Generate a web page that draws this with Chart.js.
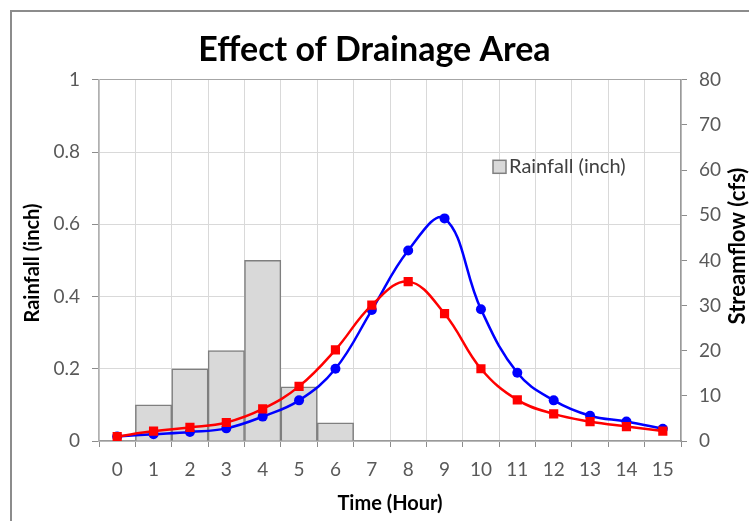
<!DOCTYPE html>
<html>
<head>
<meta charset="utf-8">
<script src="https://cdn.jsdelivr.net/npm/chart.js@4.4.1/dist/chart.umd.min.js"></script>
<style>
  html, body { margin: 0; padding: 0; background: #ffffff; }
  #wrap { width: 749px; height: 521px; position: relative; }
</style>
</head>
<body>
<div id="wrap"><canvas id="c" width="749" height="521"></canvas></div>
<script>
const hours = ['0','1','2','3','4','5','6','7','8','9','10','11','12','13','14','15'];
const rainfall = [null, 0.1, 0.2, 0.25, 0.5, 0.15, 0.05, null, null, null, null, null, null, null, null, null];
const flowBlue = [1, 1.5, 2.0, 2.8, 5.4, 9.0, 16, 29, 42.2, 49.3, 29.2, 15.1, 9.0, 5.6, 4.3, 2.7];
const flowRed  = [1, 2.2, 3.0, 4.1, 7.1, 12.1, 20.2, 30.1, 35.3, 28.2, 16, 9.1, 6.0, 4.3, 3.2, 2.2];
const rainTicks = [0, 0.2, 0.4, 0.6, 0.8, 1];
const flowTicks = [0, 10, 20, 30, 40, 50, 60, 70, 80];

const chartTitle = 'Effect of Drainage Area';
const xTitle = 'Time (Hour)';
const leftTitle = 'Rainfall (inch)';
const rightTitle = 'Streamflow (cfs)';
const legendLabel = 'Rainfall (inch)';

const FONT = 'Lato, Carlito, "Open Sans", sans-serif';

const framePlugin = {
  id: 'frame',
  beforeDraw(chart) {
    const ctx = chart.ctx;
    ctx.save();
    ctx.fillStyle = '#ffffff';
    ctx.fillRect(0, 0, chart.width, chart.height);
    ctx.strokeStyle = '#8c8c8c';
    ctx.lineWidth = 2;
    ctx.beginPath();
    ctx.moveTo(11, chart.height + 5);
    ctx.lineTo(11, 11);
    ctx.lineTo(chart.width + 5, 11);
    ctx.stroke();
    ctx.restore();
  }
};

const extrasPlugin = {
  id: 'extras',
  afterDraw(chart) {
    const ctx = chart.ctx;
    const a = chart.chartArea;
    ctx.save();
    ctx.fillStyle = '#000000';
    ctx.textAlign = 'center';
    ctx.textBaseline = 'middle';
    ctx.save();
    ctx.font = 'bold 20px ' + FONT;
    ctx.translate(33, 263);
    ctx.rotate(-Math.PI / 2);
    ctx.fillText(leftTitle, 0, 0);
    ctx.restore();
    ctx.save();
    ctx.font = 'bold 22px ' + FONT;
    ctx.translate(738, 246);
    ctx.rotate(-Math.PI / 2);
    ctx.fillText(rightTitle, 0, 0);
    ctx.restore();
    ctx.font = 'bold 20px ' + FONT;
    ctx.fillText(xTitle, (a.left + a.right) / 2, 504);
    // legend
    const lx = a.left + 394, ly = a.top + 87;
    ctx.fillStyle = '#d9d9d9';
    ctx.strokeStyle = '#808080';
    ctx.lineWidth = 1.5;
    ctx.fillRect(lx, ly - 6.5, 13, 13);
    ctx.strokeRect(lx, ly - 6.5, 13, 13);
    ctx.fillStyle = '#404040';
    ctx.font = '20px ' + FONT;
    ctx.textAlign = 'left';
    ctx.fillText(legendLabel, lx + 16, ly);
    ctx.restore();
  }
};

new Chart(document.getElementById('c'), {
  type: 'bar',
  data: {
    labels: hours,
    datasets: [
      {
        type: 'line',
        label: 'Streamflow (red)',
        data: flowRed,
        yAxisID: 'yFlow',
        borderColor: '#ff0000',
        backgroundColor: '#ff0000',
        borderWidth: 2.5,
        pointStyle: 'rect',
        pointRadius: 6.5,
        pointBorderWidth: 0,
        tension: 0.4,
        order: 1
      },
      {
        type: 'line',
        label: 'Streamflow (blue)',
        data: flowBlue,
        yAxisID: 'yFlow',
        borderColor: '#0000ff',
        backgroundColor: '#0000ff',
        borderWidth: 2.5,
        pointStyle: 'circle',
        pointRadius: 5,
        pointBorderWidth: 0,
        tension: 0.4,
        order: 2
      },
      {
        type: 'bar',
        label: legendLabel,
        data: rainfall,
        yAxisID: 'yRain',
        backgroundColor: '#d9d9d9',
        borderColor: '#7f7f7f',
        borderWidth: 1.5,
        barPercentage: 1,
        categoryPercentage: 1,
        order: 3
      }
    ]
  },
  options: {
    responsive: false,
    animation: false,
    layout: { padding: 0 },
    plugins: {
      legend: { display: false },
      tooltip: { enabled: false },
      title: {
        display: true,
        text: chartTitle,
        color: '#000000',
        font: { family: FONT, size: 34, weight: 'bold', lineHeight: 1.2 },
        padding: { top: 30, bottom: 9 }
      }
    },
    scales: {
      x: {
        offset: true,
        grid: { offset: true, color: '#d9d9d9', tickColor: '#8c8c8c', tickLength: 6, lineWidth: 1 },
        border: { color: '#9a9a9a', width: 1.5 },
        ticks: { color: '#595959', font: { family: FONT, size: 19 }, padding: 11, maxRotation: 0 },
        afterFit(s) { s.height = 80; }
      },
      yRain: {
        position: 'left',
        min: 0, max: 1,
        afterBuildTicks(s) { s.ticks = rainTicks.map(v => ({ value: v })); },
        grid: {
          color: (c) => c.tick && c.tick.value === 1 ? '#a6a6a6' : '#d9d9d9',
          tickColor: '#8c8c8c', tickLength: 7
        },
        border: { color: '#b0b0b0', width: 1.5 },
        ticks: { color: '#595959', font: { family: FONT, size: 19 }, padding: 12,
                 callback: (v) => String(Math.round(v * 10) / 10) },
        afterFit(s) { s.width = 99; }
      },
      yFlow: {
        position: 'right',
        min: 0, max: 80,
        afterBuildTicks(s) { s.ticks = flowTicks.map(v => ({ value: v })); },
        grid: { drawOnChartArea: false, tickColor: '#8c8c8c', tickLength: 6 },
        border: { color: '#9a9a9a', width: 1.5 },
        ticks: { color: '#595959', font: { family: FONT, size: 19 }, padding: 12 },
        afterFit(s) { s.width = 68; }
      }
    }
  },
  plugins: [framePlugin, extrasPlugin]
});
</script>
</body>
</html>
